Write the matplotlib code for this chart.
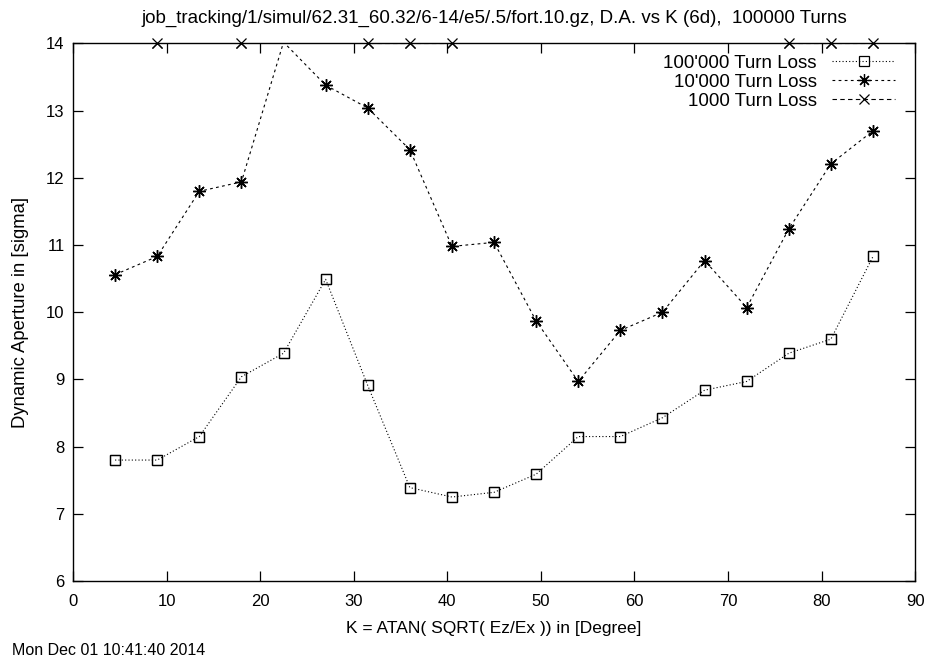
import numpy as np
import matplotlib
matplotlib.use("Agg")
import matplotlib.pyplot as plt

plt.rcParams['font.family'] = ['Liberation Sans', 'DejaVu Sans']

# K in degrees
k_deg = [4.5, 9, 13.5, 18, 22.5, 27, 31.5, 36, 40.5, 45, 49.5,
         54, 58.5, 63, 67.5, 72, 76.5, 81, 85.5]

# dynamic aperture in sigma
da_100k = [7.80, 7.80, 8.15, 9.04, 9.39, 10.49, 8.91, 7.39, 7.25, 7.32,
           7.59, 8.15, 8.15, 8.43, 8.84, 8.97, 9.39, 9.60, 10.83]
da_10k = [10.56, 10.83, 11.80, 11.94, 14.02, 13.38, 13.04, 12.42, 10.98, 11.04,
          9.87, 8.97, 9.73, 10.00, 10.77, 10.07, 11.24, 12.21, 12.70]
# punkte ueber 14 liegen ausserhalb des bildes
da_1k = [15, 14, 15, 14, 15, 15, 14, 14, 14, 15,
         15, 15, 15, 15, 15, 15, 14, 14, 14]

labels = ["100'000 Turn Loss", "10'000 Turn Loss", "1000 Turn Loss"]
title = "job_tracking/1/simul/62.31_60.32/6-14/e5/.5/fort.10.gz, D.A. vs K (6d),  100000 Turns"

ymin, ymax = 6, 14

fig = plt.figure(figsize=(9.3, 6.64), dpi=100)
ax = fig.add_axes([0.0785, 0.125, 0.9055, 0.8095])

series = [
    (da_100k, 's', (0, (1, 2)), 6.5, 'none'),
    (da_10k, (8, 2, 0), (0, (2.5, 3)), 9, 'k'),
    (da_1k, 'x', (0, (4, 3)), 7, 'k'),
]

handles = []
for (vals, mk, ls, ms, mfc), lab in zip(series, labels):
    y = np.array(vals, dtype=float)
    inside = np.where(y <= ymax)[0]
    h, = ax.plot(k_deg, y, color='k', lw=0.8, linestyle=ls, marker=mk,
                 markersize=ms, markerfacecolor=mfc, markeredgewidth=0.9,
                 markevery=list(inside), label=lab)
    # marker auf dem rand ganz zeigen
    ax.plot(np.array(k_deg)[inside], y[inside], linestyle='none', marker=mk,
            markersize=ms, markerfacecolor=mfc, markeredgecolor='k',
            markeredgewidth=0.9, clip_on=False)
    handles.append(h)

ax.set_xlim(0, 90)
ax.set_ylim(ymin, ymax)
ax.set_xticks(np.arange(0, 91, 10))
ax.set_yticks(np.arange(6, 15, 1))
ax.tick_params(direction='in', length=7, width=0.9, top=True, right=True,
               labelsize=12, pad=6)
ax.tick_params(axis='x', pad=9)
for s in ax.spines.values():
    s.set_linewidth(1.0)

ax.set_xlabel("K = ATAN( SQRT( Ez/Ex )) in [Degree]", fontsize=12.5, labelpad=9)
ax.set_ylabel("Dynamic Aperture in [sigma]", fontsize=13.3, labelpad=12)
ax.set_title(title, fontsize=13.5, pad=15)

leg = ax.legend(handles=handles, loc='upper right', frameon=False, markerfirst=False,
                numpoints=1, handlelength=3.4, handletextpad=0.8, fontsize=13.5,
                labelspacing=0.1, borderaxespad=0.2, bbox_to_anchor=(0.99, 1.0))

fig.text(0.013, 0.021, "Mon Dec 01 10:41:40 2014", fontsize=11.5, ha='left', va='center')

fig.savefig("out.png", dpi=100)
